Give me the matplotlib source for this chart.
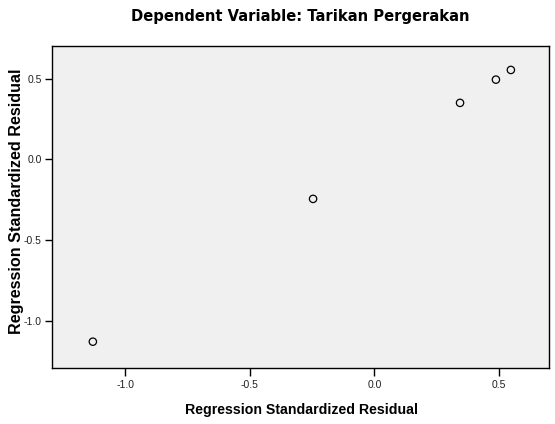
import matplotlib
matplotlib.use("Agg")
import matplotlib.pyplot as plt

x_vals = [-1.13, -0.246, 0.344, 0.488, 0.548]
y_vals = [-1.13, -0.245, 0.350, 0.494, 0.554]
x_ticks = [-1.0, -0.5, 0.0, 0.5]
y_ticks = [-1.0, -0.5, 0.0, 0.5]
title = "Dependent Variable: Tarikan Pergerakan"
xlabel = "Regression Standardized Residual"
ylabel = "Regression Standardized Residual"

fig = plt.figure(figsize=(5.55, 4.24), dpi=100)
ax = fig.add_axes([0.0928, 0.1321, 0.8959, 0.7604])
ax.set_facecolor("#f0f0f0")
ax.scatter(x_vals, y_vals, s=28, facecolors="none", edgecolors="black", linewidths=0.9, zorder=3)
ax.set_xlim(-1.296, 0.700)
ax.set_ylim(-1.293, 0.705)
ax.set_xticks(x_ticks)
ax.set_yticks(y_ticks)
ax.set_xticklabels([f"{v:.1f}" for v in x_ticks], fontfamily="Liberation Sans", fontsize=7.5, color="#222222")
ax.set_yticklabels([f"{v:.1f}" for v in y_ticks], fontfamily="Liberation Sans", fontsize=7.5, color="#222222")
ax.tick_params(axis="x", direction="out", length=6, width=1, colors="black", pad=3, labelcolor="#222222")
ax.tick_params(axis="y", direction="out", length=5, width=1, colors="black", pad=2, labelcolor="#222222")
for s in ax.spines.values():
    s.set_linewidth(1.0)
    s.set_color("black")
fig.text(0.5406, 1 - 17/424, title, ha="center", va="center", fontfamily="DejaVu Sans", fontweight="bold", fontsize=10.6)
fig.text(0.5440, 1 - 410/424, xlabel, ha="center", va="center", fontfamily="Liberation Sans", fontweight="bold", fontsize=10.2)
fig.text(17/555, 1 - 201/424, ylabel, ha="center", va="center", rotation=90, fontfamily="Liberation Sans", fontweight="bold", fontsize=11.6)
fig.savefig("out.png", dpi=100)
